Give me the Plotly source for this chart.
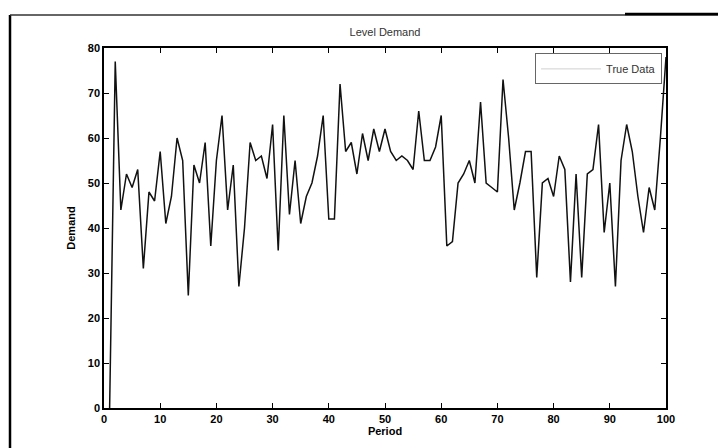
import plotly.graph_objects as go

periods = list(range(1, 101))
demand = [0, 77, 44, 52, 49, 53, 31, 48, 46, 57,
          41, 47, 60, 55, 25, 54, 50, 59, 36, 55,
          65, 44, 54, 27, 40, 59, 55, 56, 51, 63,
          35, 65, 43, 55, 41, 47, 50, 56, 65, 42,
          42, 72, 57, 59, 52, 61, 55, 62, 57, 62,
          57, 55, 56, 55, 53, 66, 55, 55, 58, 65,
          36, 37, 50, 52, 55, 50, 68, 50, 49, 48,
          73, 60, 44, 50, 57, 57, 29, 50, 51, 47,
          56, 53, 28, 52, 29, 52, 53, 63, 39, 50,
          27, 55, 63, 57, 47, 39, 49, 44, 60, 78]
x_ticks = [0, 10, 20, 30, 40, 50, 60, 70, 80, 90, 100]
y_ticks = [0, 10, 20, 30, 40, 50, 60, 70, 80]

W, H = 718, 448
L, R, T, B = 104, 52, 48, 40
pw, ph = W - L - R, H - T - B

def px(x):
    return (x - L) / pw

def py(y):
    return (H - B - y) / ph

fig = go.Figure()
fig.add_trace(go.Scatter(
    x=periods, y=demand, mode="lines", name="True Data",
    line=dict(color="#111111", width=1.5), showlegend=False,
))
# legend entry (the sample line is very faint in the original)
fig.add_trace(go.Scatter(
    x=[None], y=[None], mode="lines", name="True Data",
    line=dict(color="#d0d0d0", width=1), showlegend=True,
))

tickfont = dict(family="Liberation Sans, Arial", size=11, color="#000000")
axis_common = dict(
    showgrid=False, zeroline=False, showline=True, linecolor="#000000",
    linewidth=1.5, mirror="ticks", ticks="inside", ticklen=5,
    tickcolor="#000000", tickwidth=1, tickfont=tickfont,
)
fig.update_xaxes(range=[0, 100], tickvals=x_ticks,
                 ticktext=[f"<b>{t}</b>" for t in x_ticks],
                 title=dict(text="<b>Period</b>", font=dict(family="Liberation Sans, Arial", size=11, color="#000"), standoff=2),
                 **axis_common)
fig.update_yaxes(range=[0, 80], tickvals=y_ticks,
                 ticktext=[f"<b>{t}</b>" for t in y_ticks],
                 title=dict(text="<b>Demand</b>", font=dict(family="Liberation Sans, Arial", size=11, color="#000"), standoff=10),
                 **axis_common)

fig.update_layout(
    width=W, height=H,
    margin=dict(l=L, r=R, t=T, b=B),
    paper_bgcolor="white", plot_bgcolor="white",
    title=dict(text="Level Demand", x=(L + pw / 2) / W, xanchor="center",
               y=1 - 32 / H, yanchor="middle",
               font=dict(family="Liberation Sans, Arial", size=11, color="#333333")),
    showlegend=True,
    legend=dict(x=0.993, y=0.985, xanchor="right", yanchor="top",
                bgcolor="white", bordercolor="#666666", borderwidth=1,
                font=dict(family="Liberation Sans, Arial", size=11, color="#333333"),
                itemwidth=60, tracegroupgap=0),
    shapes=[
        dict(type="line", xref="paper", yref="paper",
             x0=px(10), x1=px(10), y0=py(15), y1=py(448),
             line=dict(color="#000000", width=2.5)),
        dict(type="line", xref="paper", yref="paper",
             x0=px(10), x1=px(718), y0=py(15), y1=py(15),
             line=dict(color="#333333", width=1.5)),
        dict(type="line", xref="paper", yref="paper",
             x0=px(625), x1=px(718), y0=py(14), y1=py(14),
             line=dict(color="#000000", width=2.5)),
    ],
)

fig.write_html("out.html")
